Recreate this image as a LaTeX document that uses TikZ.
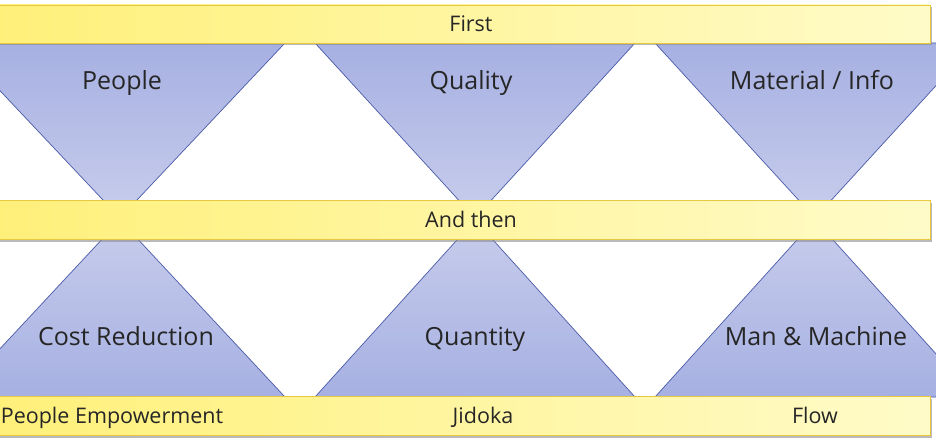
\documentclass[tikz,border=0pt]{standalone}
\usepackage{fontspec}
\setmainfont{Open Sans}
\usetikzlibrary{shadows}
\definecolor{triedge}{HTML}{4A5AA8}
\definecolor{tritop}{HTML}{C8CDEC}
\definecolor{tribot}{HTML}{A6B0E2}
\definecolor{barL}{HTML}{FFF07A}
\definecolor{barR}{HTML}{FFFBC8}
\definecolor{baredge}{HTML}{E8C840}
\begin{document}
\begin{tikzpicture}[x=1pt,y=-1pt,
  tri/.style={draw=triedge,line width=0.7pt,top color=tritop,bottom color=tribot},
  tridown/.style={draw=triedge,line width=0.7pt,top color=tribot,bottom color=tritop},
  bar/.style={draw=baredge,line width=0.6pt,left color=barL,right color=barR,
    drop shadow={shadow xshift=1.5pt,shadow yshift=-2.5pt,fill=black!45,opacity=0.6}},
  lab/.style={anchor=base,inner sep=0pt,font=\fontsize{25}{29}\selectfont,text=black!85},
  blab/.style={anchor=base,inner sep=0pt,font=\fontsize{21.5}{25}\selectfont,text=black!85}]
\useasboundingbox (0,0) rectangle (936,444);
\fill[white] (0,0) rectangle (936,444);
\foreach \c/\w in {120/165,475/160,815/160}{
  \path[tridown] (\c-\w,43) -- (\c+\w,43) -- (\c,218) -- cycle;
  \path[tri] (\c,220) -- (\c+\w,397) -- (\c-\w,397) -- cycle;
}
\path[bar] (-2,5) rectangle (930,43);
\path[bar] (-2,200) rectangle (930,239);
\path[bar] (-2,396) rectangle (930,435);
\node[blab] (first) at (471,32) {First};
\node[blab] (andthen) at (471,227) {And then};
\node[blab] (pe) at (112,423) {People Empowerment};
\node[blab] (jid) at (483,423) {Jidoka};
\node[blab] (flow) at (815,423) {Flow};
\node[lab] (people) at (122,89) {People};
\node[lab] (quality) at (471,89) {Quality};
\node[lab] (mat) at (812,89) {Material / Info};
\node[lab] (cost) at (126,345) {Cost Reduction};
\node[lab] (qty) at (475,345) {Quantity};
\node[lab] (mm) at (816,345) {Man \& Machine};
\end{tikzpicture}
\end{document}
